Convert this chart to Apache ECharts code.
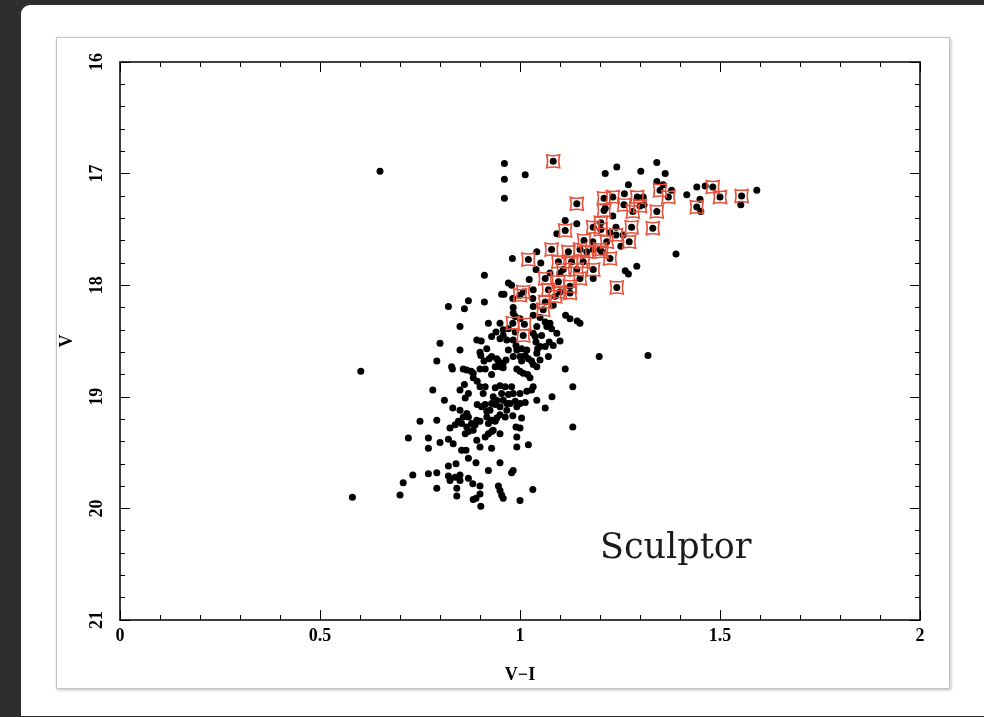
<!DOCTYPE html>
<html><head><meta charset="utf-8">
<script src="https://cdn.jsdelivr.net/npm/echarts@6/dist/echarts.min.js"></script>
<style>
html,body{margin:0;padding:0;width:984px;height:717px;overflow:hidden;background:#2e2e2e;}
#panel{position:absolute;left:21px;top:5px;width:1000px;height:711px;background:#fff;border-radius:9px 0 0 0;}
#inner{position:absolute;left:56px;top:37px;width:892px;height:650px;border:1px solid #c4c4c4;box-shadow:1px 1px 3px rgba(0,0,0,0.25);background:#fff;}
#chart{position:absolute;left:0;top:0;width:984px;height:717px;}
</style></head>
<body>
<div id="panel"></div><div id="inner"></div><div id="chart"></div>
<script>
// V-I colour, V magnitude for every star (black dots)
const blackStars = [
[0.65,16.98],[0.961,16.91],[0.961,17.05],[0.961,17.22],[1.013,17.01],
[1.242,16.94],[1.342,16.90],[1.302,16.98],[1.363,17.00],[1.213,17.00],
[1.442,17.12],[1.463,17.11],[1.45,17.23],[1.592,17.15],[1.552,17.28],[1.452,17.34],
[1.271,17.10],[1.342,17.07],[1.358,17.10],[1.379,17.15],[1.417,17.19],[1.261,17.18],[1.213,17.31],[1.232,17.38],[1.308,17.21],[1.31,17.28],[1.182,17.61],[1.24,17.48],[1.225,17.53],[1.258,17.55],[1.252,17.65],[1.183,17.68],[1.39,17.72],[1.292,17.83],[1.263,17.87],[1.271,17.90],[1.183,17.94],
[1.142,17.45],[1.113,17.42],[1.092,17.54],[1.042,17.70],[0.981,17.76],[1.052,17.80],[1.04,17.86],[0.911,17.91],[1.023,17.95],[0.971,17.98],[0.979,18.00],[1.033,18.04],[0.954,18.08],[0.96,18.08],[0.982,18.12],[1.032,18.12],[1.10,17.89],[1.075,17.89],
[0.821,18.19],[0.871,18.14],[0.911,18.15],[0.861,18.21],[0.983,18.20],[1.033,18.19],[1.083,18.18],
[0.983,18.25],[0.988,18.28],[1.0,18.30],[1.033,18.27],[1.05,18.29],[1.063,18.33],[1.075,18.34],[1.114,18.27],[1.125,18.30],[1.143,18.32],[1.15,18.34],[0.921,18.34],[0.95,18.34],
[0.85,18.37],[0.94,18.42],[0.958,18.40],[0.971,18.39],[0.988,18.42],[1.042,18.37],[1.054,18.45],[1.067,18.37],[1.079,18.39],[1.092,18.43],[1.033,18.43],[1.038,18.46],
[0.80,18.52],[0.892,18.49],[0.903,18.50],[0.929,18.46],[0.95,18.48],[0.967,18.49],[0.958,18.45],[0.983,18.49],[0.99,18.54],[0.971,18.58],[0.992,18.58],[1.004,18.57],[1.017,18.58],[1.04,18.51],[1.044,18.57],[1.05,18.55],[1.063,18.55],[1.073,18.51],[1.083,18.54],[1.10,18.50],[0.85,18.58],[0.90,18.60],[0.917,18.57],
[0.902,18.63],[0.91,18.68],[0.923,18.66],[0.929,18.64],[0.942,18.66],[0.946,18.68],[0.958,18.70],[0.965,18.67],[0.983,18.64],[1.0,18.64],[1.004,18.68],[1.013,18.63],[1.021,18.66],[1.029,18.68],[1.042,18.61],[1.05,18.67],[1.071,18.64],[0.95,18.73],[0.792,18.68],[0.829,18.73],
[0.831,18.75],[0.858,18.75],[0.867,18.76],[0.878,18.77],[0.883,18.79],[0.90,18.75],[0.913,18.75],[0.929,18.80],[0.938,18.73],[0.958,18.74],[0.992,18.75],[1.0,18.77],[1.008,18.79],[1.019,18.80],[1.025,18.83],[1.033,18.71],[1.042,18.73],[1.113,18.75],[0.883,18.83],[0.893,18.86],
[0.782,18.94],[0.85,18.94],[0.861,18.89],[0.871,18.97],[0.90,18.91],[0.913,18.91],[0.908,18.97],[0.938,18.92],[0.95,18.90],[0.963,18.91],[0.979,18.91],[0.954,18.97],[0.971,18.98],[0.983,18.97],[1.0,18.97],[1.017,18.95],[1.029,18.94],[1.033,18.91],[1.132,18.91],[0.933,19.00],[0.942,19.03],[0.958,19.03],[0.863,19.01],
[0.811,19.03],[0.832,19.10],[0.85,19.12],[0.867,19.15],[0.893,19.07],[0.904,19.09],[0.913,19.07],[0.917,19.13],[0.925,19.12],[0.929,19.06],[0.938,19.07],[0.95,19.09],[0.967,19.06],[0.975,19.06],[0.988,19.04],[0.992,19.09],[1.0,19.06],[1.013,19.05],[1.042,19.03],[1.063,19.10],[1.08,19.00],
[0.75,19.22],[0.792,19.21],[0.825,19.28],[0.838,19.25],[0.846,19.22],[0.854,19.24],[0.858,19.18],[0.867,19.27],[0.871,19.18],[0.879,19.24],[0.888,19.25],[0.892,19.21],[0.90,19.22],[0.917,19.18],[0.921,19.24],[0.929,19.21],[0.938,19.22],[0.942,19.19],[0.95,19.16],[0.963,19.18],[0.967,19.12],[0.982,19.17],[0.99,19.27],[1.004,19.19],[1.0,19.28],[1.132,19.27],
[0.721,19.37],[0.771,19.37],[0.80,19.41],[0.821,19.38],[0.833,19.42],[0.863,19.33],[0.871,19.31],[0.883,19.30],[0.892,19.39],[0.913,19.36],[0.921,19.33],[0.929,19.31],[0.933,19.30],[0.95,19.33],[0.90,19.45],[0.929,19.46],[0.992,19.36],[0.992,19.45],[1.021,19.43],[0.771,19.46],[0.854,19.48],[0.865,19.48],
[0.871,19.55],[0.89,19.59],[0.95,19.59],[0.821,19.62],[0.84,19.60],[0.921,19.66],[0.983,19.66],
[0.732,19.70],[0.708,19.77],[0.771,19.69],[0.792,19.68],[0.821,19.71],[0.825,19.75],[0.838,19.72],[0.85,19.70],[0.85,19.75],[0.871,19.73],[0.882,19.78],[0.90,19.80],[0.946,19.80],[0.792,19.82],[0.842,19.82],[0.979,19.68],[1.032,19.83],
[0.70,19.88],[0.581,19.90],[0.842,19.89],[0.883,19.92],[0.89,19.91],[0.90,19.87],[0.902,19.98],[0.95,19.84],[0.954,19.88],[0.958,19.91],[1.0,19.93],
[0.602,18.77],[1.198,18.64],[1.32,18.63]
];
// stars marked with a red box (also drawn as black dots)
const redStars = [
[1.083,16.89],
[1.142,17.27],[1.113,17.51],[1.079,17.68],[1.121,17.70],[1.021,17.77],[1.096,17.79],[1.15,17.68],[1.16,17.60],[1.167,17.70],[1.129,17.79],[1.158,17.79],[1.108,17.86],[1.142,17.86],[1.15,17.94],[1.063,17.94],[1.071,18.04],[1.096,17.97],[1.125,18.01],[1.008,18.06],[1.0,18.09],[1.125,18.07],[1.088,18.10],[1.10,18.06],
[1.21,17.22],[1.232,17.21],[1.293,17.21],[1.30,17.29],[1.26,17.28],[1.282,17.34],[1.342,17.34],[1.371,17.21],[1.35,17.15],[1.21,17.33],[1.202,17.44],[1.202,17.50],[1.183,17.48],[1.279,17.48],[1.332,17.49],[1.24,17.55],[1.273,17.61],[1.217,17.61],[1.20,17.68],[1.225,17.76],[1.204,17.70],[1.183,17.86],
[1.482,17.12],[1.50,17.21],[1.554,17.20],[1.442,17.30],
[0.982,18.34],[1.011,18.35],[1.008,18.45],[1.058,18.22],[1.063,18.15],[1.242,18.02]
];
const xName = 'V\u2212I';
const yName = 'V';
const panelLabel = 'Sculptor';

const font = {fontFamily:'Liberation Serif', fontWeight:'bold', fontSize:18, color:'#000'};
function axisBase(extra){
  return Object.assign({
    type:'value',
    splitLine:{show:false},
    axisLine:{show:true, onZero:false, lineStyle:{color:'#000', width:1.5}},
    axisTick:{show:true, inside:true, length:10, lineStyle:{color:'#000', width:1}},
    minorTick:{show:true, splitNumber:5, length:5, lineStyle:{color:'#000', width:1}},
  }, extra);
}
const chart = echarts.init(document.getElementById('chart'), null, {renderer:'canvas'});
chart.setOption({
  animation:false,
  backgroundColor:'transparent',
  grid:{left:120, top:62, width:800, height:558},
  xAxis:[
    axisBase({min:0, max:2, interval:0.5, position:'bottom', name:xName, nameLocation:'middle', nameGap:46,
      nameTextStyle:font, axisLabel:Object.assign({margin:7}, font)}),
    axisBase({min:0, max:2, interval:0.5, position:'top', axisLabel:{show:false}})
  ],
  yAxis:[
    axisBase({min:16, max:21, interval:1, inverse:true, position:'left', name:yName, nameLocation:'middle', nameGap:44, nameRotate:90,
      nameTextStyle:font, axisLabel:Object.assign({margin:14, rotate:90}, font)}),
    axisBase({min:16, max:21, interval:1, inverse:true, position:'right', axisLabel:{show:false}})
  ],
  graphic:[{type:'text', left:600, top:531, style:{text:panelLabel, font:'35px "DejaVu Serif"', fill:'#1a1a1a'}}],
  series:[
    {type:'scatter', data:blackStars.concat(redStars), symbol:'circle', symbolSize:7, itemStyle:{color:'#000', opacity:1}, z:2},
    {type:'scatter', data:redStars, symbol:'path://M0,0 Q7,2 14,0 Q12,7 14,14 Q7,12 0,14 Q2,7 0,0 Z', symbolSize:13,
      itemStyle:{color:'rgba(0,0,0,0)', borderColor:'#e8503a', borderWidth:1.5, opacity:1}, z:3}
  ]
});
</script>
</body></html>
